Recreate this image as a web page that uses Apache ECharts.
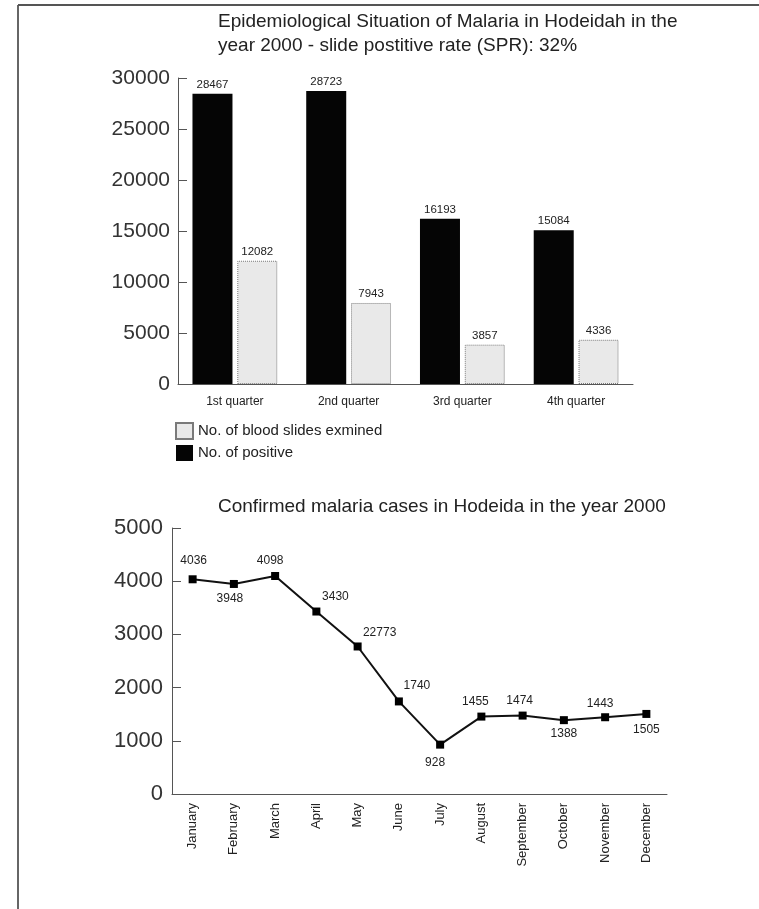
<!DOCTYPE html>
<html>
<head>
<meta charset="utf-8">
<script src="https://cdn.jsdelivr.net/npm/echarts@6/dist/echarts.min.js"></script>
<style>
  html, body { margin: 0; padding: 0; background: #fff; }
  #chart { width: 759px; height: 909px; }
</style>
</head>
<body>
<div id="chart"></div>
<script>
// quarterly data (top chart)
const quarters = ["1st quarter", "2nd quarter", "3rd quarter", "4th quarter"];
const positive = [28467, 28723, 16193, 15084];
const examined = [12082, 7943, 3857, 4336];

// monthly data (bottom chart)
const months = ["January", "February", "March", "April", "May", "June",
  "July", "August", "September", "October", "November", "December"];
const cases = [4036, 3948, 4098, 3430, 2773, 1740, 928, 1455, 1474, 1388, 1443, 1505];
// text printed next to each point (May is printed as 22773 in the source)
const caseLabels = ["4036", "3948", "4098", "3430", "22773", "1740",
  "928", "1455", "1474", "1388", "1443", "1505"];

const font = "Liberation Sans, Arial, Helvetica, sans-serif";
const ink = "#222";

// where each point label sits relative to its marker
const labelOffsets = [[1, -19], [-4, 15], [-5, -15], [19, -15], [22, -14], [18, -16],
  [-5, 18], [-6, -15], [-3, -15], [0, 14], [-5, -14], [0, 16]];

const chart = echarts.init(document.getElementById("chart"));

const plain = (v) => String(v);

const option = {
  backgroundColor: "#fff",
  animation: false,
  textStyle: { fontFamily: font, color: ink },
  title: [
    {
      text: "Epidemiological Situation of Malaria in Hodeidah in the\nyear 2000 - slide postitive rate (SPR): 32%",
      left: 213,
      top: 5,
      textStyle: { fontSize: 19, fontWeight: "normal", color: ink, lineHeight: 24, fontFamily: font }
    },
    {
      text: "Confirmed malaria cases in Hodeida in the year 2000",
      left: 213,
      top: 490,
      textStyle: { fontSize: 19, fontWeight: "normal", color: ink, lineHeight: 24, fontFamily: font }
    }
  ],
  legend: {
    orient: "vertical",
    left: 170,
    top: 417,
    itemWidth: 17,
    itemHeight: 16,
    itemGap: 5,
    icon: "rect",
    data: ["No. of blood slides exmined", "No. of positive"],
    textStyle: { fontSize: 15, color: ink, fontFamily: font }
  },
  grid: [
    { left: 178, right: 126, top: 78, height: 306 },
    { left: 172, right: 92, top: 528, height: 266 }
  ],
  xAxis: [
    {
      type: "category",
      gridIndex: 0,
      data: quarters,
      axisLine: { lineStyle: { color: "#555", width: 1 } },
      axisTick: { inside: true, length: 6, lineStyle: { color: "#555" } },
      axisLabel: { fontSize: 12, color: ink, margin: 12, fontFamily: font }
    },
    {
      type: "category",
      gridIndex: 1,
      data: months,
      axisLine: { lineStyle: { color: "#555", width: 1 } },
      axisTick: { inside: true, length: 6, lineStyle: { color: "#555" } },
      axisLabel: { fontSize: 13, color: ink, rotate: 90, margin: 9, fontFamily: font }
    }
  ],
  yAxis: [
    {
      type: "value",
      gridIndex: 0,
      min: 0,
      max: 30000,
      interval: 5000,
      axisLine: { show: true, lineStyle: { color: "#555", width: 1 } },
      axisTick: { show: true, inside: true, length: 9, lineStyle: { color: "#555" } },
      splitLine: { show: false },
      axisLabel: { fontSize: 21, color: "#333", margin: 8, fontFamily: font, formatter: plain }
    },
    {
      type: "value",
      gridIndex: 1,
      min: 0,
      max: 5000,
      interval: 1000,
      axisLine: { show: true, lineStyle: { color: "#555", width: 1 } },
      axisTick: { show: true, inside: true, length: 9, lineStyle: { color: "#555" } },
      splitLine: { show: false },
      axisLabel: { fontSize: 22, color: "#333", margin: 9, fontFamily: font, formatter: plain }
    }
  ],
  series: [
    {
      name: "No. of positive",
      type: "bar",
      xAxisIndex: 0,
      yAxisIndex: 0,
      data: positive,
      barWidth: 40,
      barGap: "12%",
      itemStyle: { color: "#050505" },
      label: { show: true, position: "top", distance: 3, fontSize: 11.5, color: ink, fontFamily: font }
    },
    {
      name: "No. of blood slides exmined",
      type: "bar",
      xAxisIndex: 0,
      yAxisIndex: 0,
      data: examined,
      barWidth: 40,
      itemStyle: { color: "#e9e9e9", borderColor: "#7a7a7a", borderWidth: 1, borderType: "dotted" },
      label: { show: true, position: "top", distance: 3, fontSize: 11.5, color: ink, fontFamily: font }
    },
    {
      name: "cases",
      type: "line",
      xAxisIndex: 1,
      yAxisIndex: 1,
      data: cases.map((v, i) => ({
        value: v,
        label: { formatter: caseLabels[i], offset: labelOffsets[i] }
      })),
      symbol: "rect",
      symbolSize: 8,
      lineStyle: { color: "#111", width: 2 },
      itemStyle: { color: "#000" },
      label: {
        show: true,
        position: "inside",
        fontSize: 12,
        color: ink,
        textBorderWidth: 0,
        fontFamily: font
      }
    }
  ],
  graphic: [
    // scanned page frame
    { type: "line", shape: { x1: 18, y1: 5, x2: 18, y2: 909 }, style: { stroke: "#666", lineWidth: 2 } },
    { type: "line", shape: { x1: 18, y1: 5, x2: 759, y2: 5 }, style: { stroke: "#555", lineWidth: 2 } }
  ]
};

chart.setOption(option);
</script>
</body>
</html>
